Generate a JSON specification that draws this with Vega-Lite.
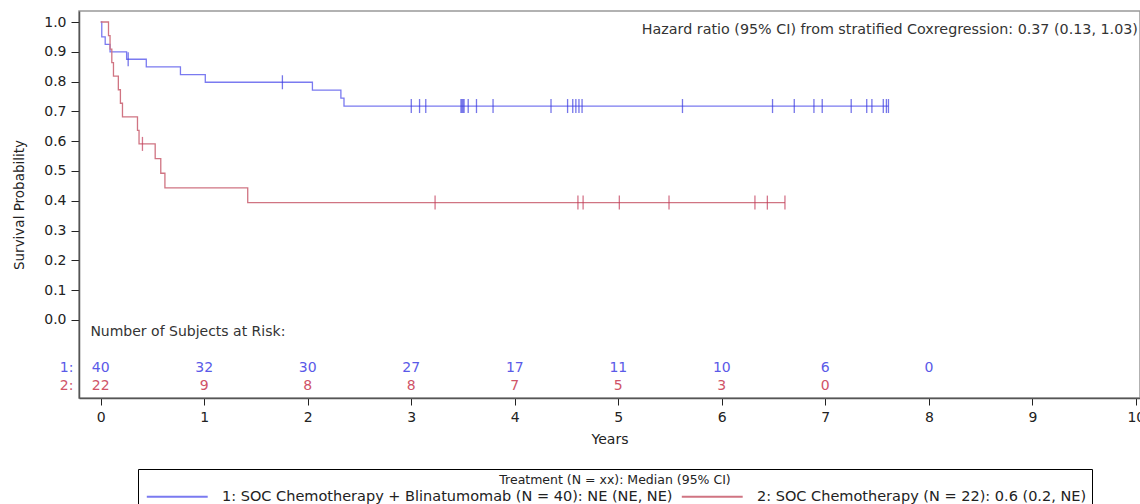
{
  "$schema": "https://vega.github.io/schema/vega-lite/v6.json",
  "width": 1061,
  "height": 387,
  "autosize": {"type": "none"},
  "padding": {"left": 79, "top": 11, "right": 0, "bottom": 106},
  "background": "white",
  "config": {
    "font": "DejaVu Sans",
    "view": {"stroke": "#999999", "strokeWidth": 1.5}
  },
  "datasets": {
    "km": [
      {"Treatment": "1: SOC Chemotherapy + Blinatumomab (N = 40): NE (NE, NE)", "t": 0, "s": 1.0},
      {"Treatment": "1: SOC Chemotherapy + Blinatumomab (N = 40): NE (NE, NE)", "t": 0.01, "s": 0.95},
      {"Treatment": "1: SOC Chemotherapy + Blinatumomab (N = 40): NE (NE, NE)", "t": 0.043, "s": 0.925},
      {"Treatment": "1: SOC Chemotherapy + Blinatumomab (N = 40): NE (NE, NE)", "t": 0.09, "s": 0.9},
      {"Treatment": "1: SOC Chemotherapy + Blinatumomab (N = 40): NE (NE, NE)", "t": 0.25, "s": 0.875},
      {"Treatment": "1: SOC Chemotherapy + Blinatumomab (N = 40): NE (NE, NE)", "t": 0.44, "s": 0.8493},
      {"Treatment": "1: SOC Chemotherapy + Blinatumomab (N = 40): NE (NE, NE)", "t": 0.77, "s": 0.8235},
      {"Treatment": "1: SOC Chemotherapy + Blinatumomab (N = 40): NE (NE, NE)", "t": 1.01, "s": 0.7978},
      {"Treatment": "1: SOC Chemotherapy + Blinatumomab (N = 40): NE (NE, NE)", "t": 2.045, "s": 0.7712},
      {"Treatment": "1: SOC Chemotherapy + Blinatumomab (N = 40): NE (NE, NE)", "t": 2.32, "s": 0.7446},
      {"Treatment": "1: SOC Chemotherapy + Blinatumomab (N = 40): NE (NE, NE)", "t": 2.35, "s": 0.718},
      {"Treatment": "1: SOC Chemotherapy + Blinatumomab (N = 40): NE (NE, NE)", "t": 7.61, "s": 0.718},
      {"Treatment": "2: SOC Chemotherapy (N = 22): 0.6 (0.2, NE)", "t": 0, "s": 1.0},
      {"Treatment": "2: SOC Chemotherapy (N = 22): 0.6 (0.2, NE)", "t": 0.075, "s": 0.9545},
      {"Treatment": "2: SOC Chemotherapy (N = 22): 0.6 (0.2, NE)", "t": 0.09, "s": 0.9091},
      {"Treatment": "2: SOC Chemotherapy (N = 22): 0.6 (0.2, NE)", "t": 0.107, "s": 0.8636},
      {"Treatment": "2: SOC Chemotherapy (N = 22): 0.6 (0.2, NE)", "t": 0.123, "s": 0.8182},
      {"Treatment": "2: SOC Chemotherapy (N = 22): 0.6 (0.2, NE)", "t": 0.17, "s": 0.7727},
      {"Treatment": "2: SOC Chemotherapy (N = 22): 0.6 (0.2, NE)", "t": 0.19, "s": 0.7273},
      {"Treatment": "2: SOC Chemotherapy (N = 22): 0.6 (0.2, NE)", "t": 0.21, "s": 0.6818},
      {"Treatment": "2: SOC Chemotherapy (N = 22): 0.6 (0.2, NE)", "t": 0.355, "s": 0.6364},
      {"Treatment": "2: SOC Chemotherapy (N = 22): 0.6 (0.2, NE)", "t": 0.37, "s": 0.5909},
      {"Treatment": "2: SOC Chemotherapy (N = 22): 0.6 (0.2, NE)", "t": 0.526, "s": 0.5417},
      {"Treatment": "2: SOC Chemotherapy (N = 22): 0.6 (0.2, NE)", "t": 0.58, "s": 0.4924},
      {"Treatment": "2: SOC Chemotherapy (N = 22): 0.6 (0.2, NE)", "t": 0.62, "s": 0.4432},
      {"Treatment": "2: SOC Chemotherapy (N = 22): 0.6 (0.2, NE)", "t": 1.42, "s": 0.3939},
      {"Treatment": "2: SOC Chemotherapy (N = 22): 0.6 (0.2, NE)", "t": 6.61, "s": 0.3939}
    ],
    "censor": [
      {"g": 1, "t": 0.265, "s": 0.875},
      {"g": 1, "t": 1.755, "s": 0.7978},
      {"g": 1, "t": 3.0, "s": 0.718},
      {"g": 1, "t": 3.08, "s": 0.718},
      {"g": 1, "t": 3.14, "s": 0.718},
      {"g": 1, "t": 3.48, "s": 0.718},
      {"g": 1, "t": 3.49, "s": 0.718},
      {"g": 1, "t": 3.5, "s": 0.718},
      {"g": 1, "t": 3.51, "s": 0.718},
      {"g": 1, "t": 3.55, "s": 0.718},
      {"g": 1, "t": 3.63, "s": 0.718},
      {"g": 1, "t": 3.79, "s": 0.718},
      {"g": 1, "t": 4.35, "s": 0.718},
      {"g": 1, "t": 4.51, "s": 0.718},
      {"g": 1, "t": 4.56, "s": 0.718},
      {"g": 1, "t": 4.59, "s": 0.718},
      {"g": 1, "t": 4.62, "s": 0.718},
      {"g": 1, "t": 4.65, "s": 0.718},
      {"g": 1, "t": 5.62, "s": 0.718},
      {"g": 1, "t": 6.49, "s": 0.718},
      {"g": 1, "t": 6.7, "s": 0.718},
      {"g": 1, "t": 6.89, "s": 0.718},
      {"g": 1, "t": 6.97, "s": 0.718},
      {"g": 1, "t": 7.25, "s": 0.718},
      {"g": 1, "t": 7.4, "s": 0.718},
      {"g": 1, "t": 7.45, "s": 0.718},
      {"g": 1, "t": 7.56, "s": 0.718},
      {"g": 1, "t": 7.59, "s": 0.718},
      {"g": 1, "t": 7.61, "s": 0.718},
      {"g": 2, "t": 0.403, "s": 0.5909},
      {"g": 2, "t": 3.23, "s": 0.3939},
      {"g": 2, "t": 4.61, "s": 0.3939},
      {"g": 2, "t": 4.66, "s": 0.3939},
      {"g": 2, "t": 5.01, "s": 0.3939},
      {"g": 2, "t": 5.49, "s": 0.3939},
      {"g": 2, "t": 6.32, "s": 0.3939},
      {"g": 2, "t": 6.44, "s": 0.3939},
      {"g": 2, "t": 6.61, "s": 0.3939}
    ],
    "risk1": [
      {"t": -0.33, "n": "1:"},
      {"t": 0, "n": "40"}, {"t": 1, "n": "32"}, {"t": 2, "n": "30"}, {"t": 3, "n": "27"}, {"t": 4, "n": "17"},
      {"t": 5, "n": "11"}, {"t": 6, "n": "10"}, {"t": 7, "n": "6"}, {"t": 8, "n": "0"}
    ],
    "risk2": [
      {"t": -0.33, "n": "2:"},
      {"t": 0, "n": "22"}, {"t": 1, "n": "9"}, {"t": 2, "n": "8"}, {"t": 3, "n": "8"}, {"t": 4, "n": "7"},
      {"t": 5, "n": "5"}, {"t": 6, "n": "3"}, {"t": 7, "n": "0"}
    ]
  },
  "layer": [
    {
      "data": {"name": "km"},
      "mark": {"type": "line", "interpolate": "step-after", "strokeWidth": 1.3},
      "encoding": {
        "x": {
          "field": "t", "type": "quantitative",
          "scale": {"domain": [-0.21, 10.04], "nice": false, "zero": false},
          "axis": {
            "title": "Years", "values": [0, 1, 2, 3, 4, 5, 6, 7, 8, 9, 10], "format": "d", "tickCount": 30,
            "grid": false, "tickSize": 7, "tickColor": "#222222", "domainColor": "#555555", "domainWidth": 1.5,
            "labelFontSize": 14, "labelColor": "#222222", "labelPadding": 5, "labelFlush": false, "labelOverlap": false,
            "titleFontSize": 14, "titleFontWeight": "normal", "titleColor": "#222222", "titlePadding": 8
          }
        },
        "y": {
          "field": "s", "type": "quantitative",
          "scale": {"domain": [-0.262, 1.037], "nice": false, "zero": false},
          "axis": {
            "title": "Survival Probability", "values": [0, 0.1, 0.2, 0.3, 0.4, 0.5, 0.6, 0.7, 0.8, 0.9, 1.0], "format": ".1f", "tickCount": 30,
            "grid": false, "tickSize": 8, "tickColor": "#222222", "domainColor": "#555555", "domainWidth": 1.5,
            "labelFontSize": 14, "labelColor": "#222222", "labelPadding": 5, "labelOverlap": false,
            "titleFontSize": 13.5, "titleFontWeight": "normal", "titleColor": "#222222", "titlePadding": 17
          }
        },
        "color": {
          "field": "Treatment", "type": "nominal",
          "scale": {
            "domain": ["1: SOC Chemotherapy + Blinatumomab (N = 40): NE (NE, NE)", "2: SOC Chemotherapy (N = 22): 0.6 (0.2, NE)"],
            "range": ["#7a7af0", "#d07482"]
          },
          "legend": {
            "orient": "none", "legendX": 59, "legendY": 458,
            "direction": "horizontal", "columns": 2,
            "title": "Treatment (N = xx): Median (95% CI)",
            "titleAnchor": "middle", "titleFontSize": 12.5, "titleFontWeight": "normal", "titleColor": "#222222", "titlePadding": 2, "titleLimit": 1000,
            "labelFontSize": 14.5, "labelColor": "#222222", "labelLimit": 800, "labelOffset": 63,
            "symbolType": "M-0.6,0L8.1,0", "symbolSize": 196, "symbolStrokeWidth": 2,
            "columnPadding": 4, "padding": 5,
            "strokeColor": "#000000", "fillColor": "#ffffff"
          }
        }
      }
    },
    {
      "data": {"name": "censor"},
      "mark": {"type": "tick", "orient": "vertical", "size": 14, "thickness": 1.3},
      "encoding": {
        "x": {"field": "t", "type": "quantitative"},
        "y": {"field": "s", "type": "quantitative"},
        "color": {"condition": {"test": "datum.g == 1", "value": "#3a3ae0"}, "value": "#c23a58"}
      }
    },
    {
      "data": {"name": "risk1"},
      "mark": {"type": "text", "fontSize": 14, "baseline": "middle", "color": "#5a5ae8"},
      "encoding": {
        "x": {"field": "t", "type": "quantitative"},
        "y": {"datum": -0.161},
        "text": {"field": "n"},
        "align": {"condition": {"test": "datum.t < 0", "value": "right"}, "value": "center"}
      }
    },
    {
      "data": {"name": "risk2"},
      "mark": {"type": "text", "fontSize": 14, "baseline": "middle", "color": "#d05468"},
      "encoding": {
        "x": {"field": "t", "type": "quantitative"},
        "y": {"datum": -0.2215},
        "text": {"field": "n"},
        "align": {"condition": {"test": "datum.t < 0", "value": "right"}, "value": "center"}
      }
    },
    {
      "data": {"values": [{"lab": "Number of Subjects at Risk:", "t": -0.1, "y": -0.0403}]},
      "mark": {"type": "text", "fontSize": 14, "align": "left", "baseline": "middle", "color": "#333333"},
      "encoding": {
        "x": {"field": "t", "type": "quantitative"},
        "y": {"field": "y", "type": "quantitative"},
        "text": {"field": "lab"}
      }
    },
    {
      "data": {"values": [{"lab": "Hazard ratio (95% CI) from stratified Coxregression: 0.37 (0.13, 1.03)", "t": 10.02, "y": 0.973}]},
      "mark": {"type": "text", "fontSize": 14.3, "align": "right", "baseline": "middle", "color": "#333333"},
      "encoding": {
        "x": {"field": "t", "type": "quantitative"},
        "y": {"field": "y", "type": "quantitative"},
        "text": {"field": "lab"}
      }
    }
  ]
}
